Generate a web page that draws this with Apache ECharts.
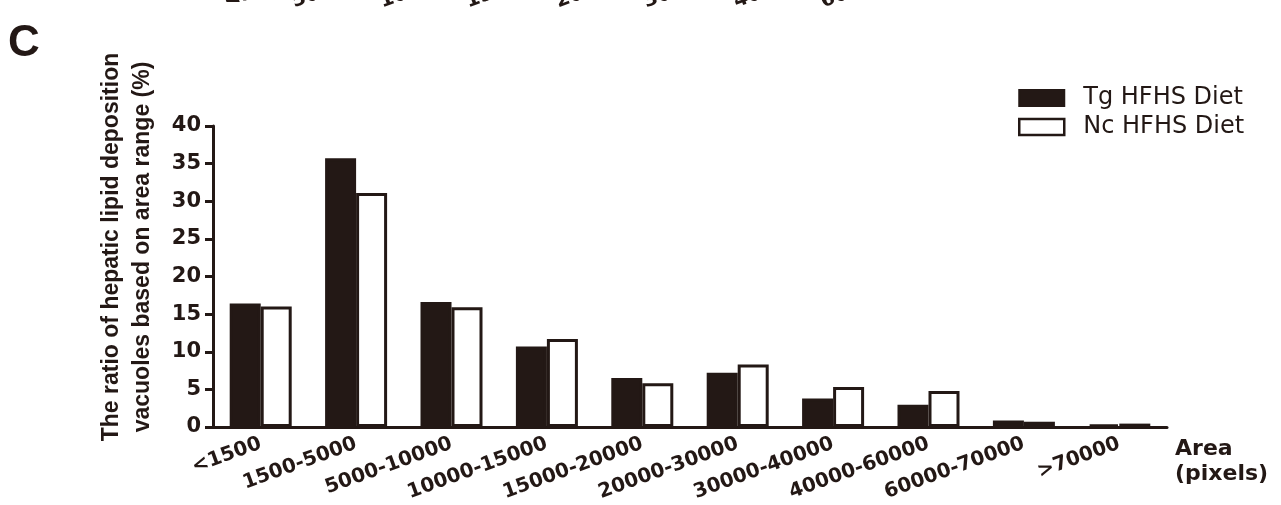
<!DOCTYPE html>
<html>
<head>
<meta charset="utf-8">
<title>Hepatic lipid vacuoles by area range</title>
<script src="https://cdn.jsdelivr.net/npm/echarts@6/dist/echarts.min.js"></script>
<style>
  html, body { margin: 0; padding: 0; background: #fff; }
  #main { width: 1281px; height: 505px; }
</style>
</head>
<body>
<div id="main"></div>
<script>
// 数据
var categories = ['<1500', '1500-5000', '5000-10000', '10000-15000', '15000-20000',
  '20000-30000', '30000-40000', '40000-60000', '60000-70000', '>70000'];
var seriesNames = ['Tg HFHS Diet', 'Nc HFHS Diet'];
var tgValues = [16.4, 35.7, 16.6, 10.7, 6.5, 7.2, 3.8, 2.95, 0.85, 0.35];
var ncValues = [16.0, 31.1, 15.9, 11.7, 5.8, 8.3, 5.3, 4.8, 0.7, 0.45];
var yTicks = { min: 0, max: 40, interval: 5 };
// 上一个面板被截掉的坐标标签
var cutLabels = ['<50', '50-100', '100-150', '150-200', '200-300', '300-400', '400-600', '600-800'];

var ink = '#231815';
var boldFont = 'DejaVu Sans';

var node = document.getElementById('main');
var chart = echarts.init(node, null, { renderer: 'canvas' });

// 顶部被裁掉的文字
var cutX = [228, 296, 384, 470, 560, 648, 738, 825];
var cutTexts = cutLabels.map(function(t, i) {
  return {
    type: 'text',
    x: cutX[i],
    y: 12,
    rotation: 20 * Math.PI / 180,
    style: {
      text: t,
      fill: ink,
      font: 'bold 20px "DejaVu Sans"',
      textAlign: 'left',
      textVerticalAlign: 'bottom'
    }
  };
});

var option = {
  backgroundColor: '#fff',
  animation: false,
  grid: {
    left: 213,
    right: 114,
    top: 126,
    bottom: 78
  },
  legend: {
    orient: 'vertical',
    left: 1013,
    top: 81,
    itemWidth: 45,
    itemHeight: 16,
    itemGap: 5,
    icon: 'rect',
    selectedMode: false,
    textStyle: {
      fontFamily: 'DejaVu Sans',
      fontSize: 24,
      lineHeight: 24,
      color: ink,
      padding: [0, 0, 0, 14]
    },
    data: [
      { name: seriesNames[0], itemStyle: { color: ink, borderColor: ink, borderWidth: 2 } },
      { name: seriesNames[1], itemStyle: { color: '#fff', borderColor: ink, borderWidth: 2.5 } }
    ]
  },
  xAxis: {
    type: 'category',
    data: categories,
    axisLine: { lineStyle: { color: ink, width: 3 } },
    axisTick: {
      alignWithLabel: true,
      length: 8,
      lineStyle: { color: ink, width: 3 }
    },
    axisLabel: {
      interval: 0,
      rotate: 20,
      margin: 16,
      color: ink,
      fontFamily: boldFont,
      fontWeight: 'bold',
      fontSize: 20
    }
  },
  yAxis: {
    type: 'value',
    min: yTicks.min,
    max: yTicks.max,
    interval: yTicks.interval,
    splitLine: { show: false },
    axisLine: { show: true, lineStyle: { color: ink, width: 3 } },
    axisTick: { show: true, length: 8, lineStyle: { color: ink, width: 3 } },
    axisLabel: {
      margin: 12,
      color: ink,
      fontFamily: boldFont,
      fontWeight: 'bold',
      fontSize: 21
    }
  },
  series: [{
    name: seriesNames[0],
    type: 'bar',
    data: tgValues,
    barWidth: 31,
    barGap: '0%',
    itemStyle: { color: ink, borderColor: ink, borderWidth: 3 }
  }, {
    name: seriesNames[1],
    type: 'bar',
    data: ncValues,
    barWidth: 31,
    itemStyle: { color: '#fff', borderColor: ink, borderWidth: 3 }
  }],
  graphic: [{
    // 面板字母
    type: 'text',
    x: 8,
    y: 22,
    style: {
      text: 'C',
      fill: ink,
      font: 'bold 44px "Liberation Sans"',
      textAlign: 'left',
      textVerticalAlign: 'top'
    }
  }, {
    // Y轴名称
    type: 'text',
    x: 127,
    y: 247,
    rotation: Math.PI / 2,
    style: {
      text: 'The ratio of hepatic lipid deposition\nvacuoles based on area range (%)',
      fill: ink,
      font: 'bold 23px "Liberation Sans"',
      lineHeight: 31,
      textAlign: 'center',
      textVerticalAlign: 'middle'
    }
  }, {
    // X轴名称
    type: 'text',
    x: 1175,
    y: 437,
    style: {
      text: 'Area\n(pixels)',
      fill: ink,
      font: 'bold 22px "DejaVu Sans"',
      lineHeight: 25,
      textAlign: 'left',
      textVerticalAlign: 'top'
    }
  }].concat(cutTexts)
};

chart.setOption(option);
</script>
</body>
</html>
